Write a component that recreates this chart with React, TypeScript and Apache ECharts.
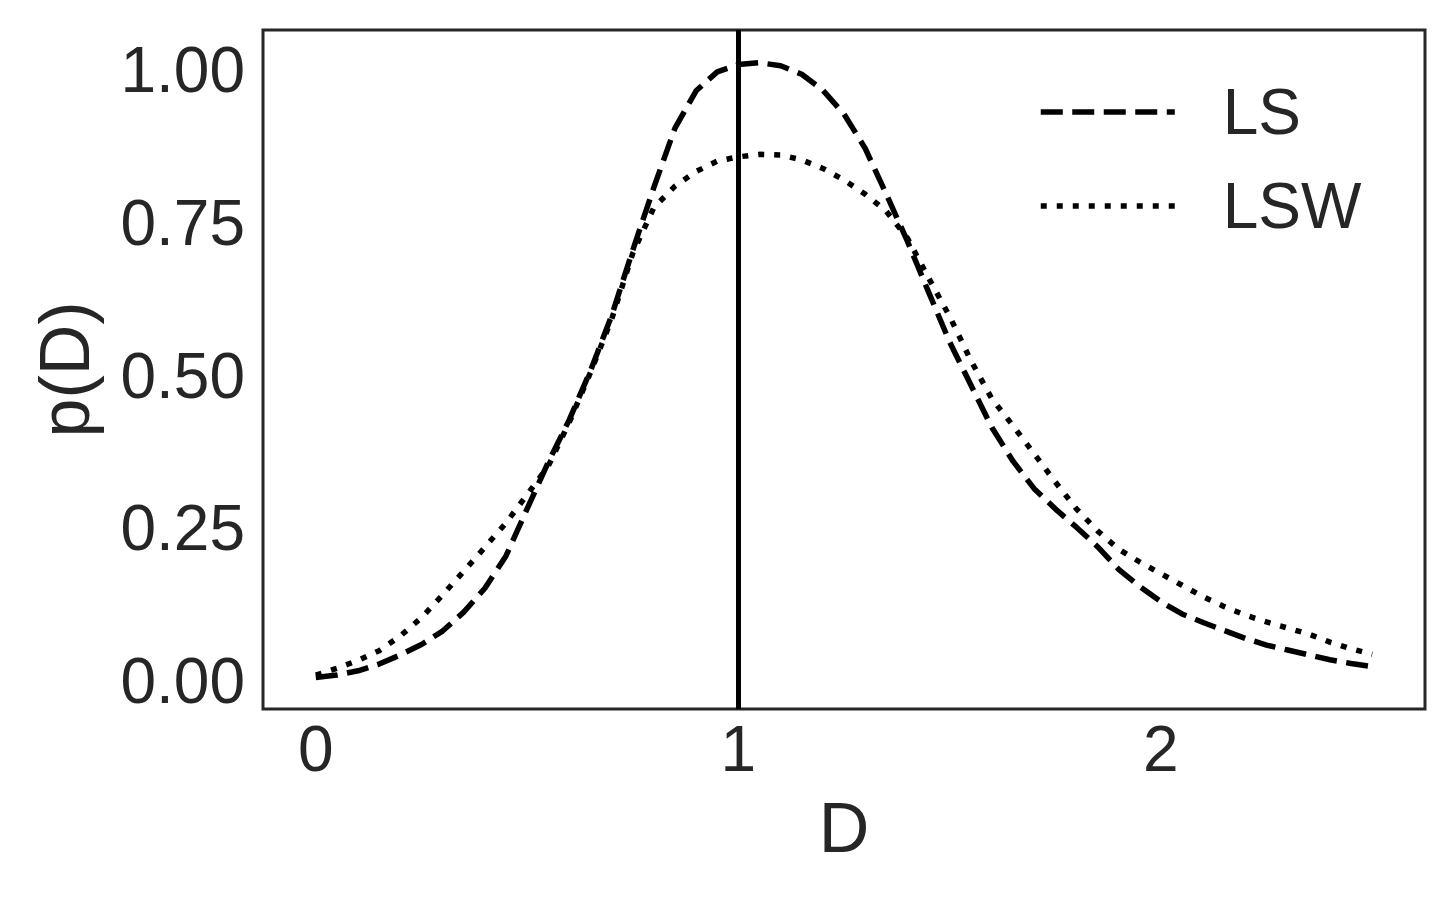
import React, { useEffect, useRef } from "react";
import * as echarts from "echarts";

// D values (x axis)
const dValues = [
  0.0, 0.05, 0.1, 0.15, 0.2, 0.25, 0.3, 0.35, 0.4, 0.45,
  0.5, 0.55, 0.6, 0.65, 0.7, 0.75, 0.8, 0.85, 0.9, 0.95,
  1.0, 1.05, 1.1, 1.15, 1.2, 1.25, 1.3, 1.35, 1.4, 1.45,
  1.5, 1.55, 1.6, 1.65, 1.7, 1.75, 1.8, 1.85, 1.9, 1.95,
  2.0, 2.05, 2.1, 2.15, 2.2, 2.25, 2.3, 2.35, 2.4, 2.45, 2.5,
];

// p(D) for LS (dashed)
const lsValues = [
  0.006, 0.010, 0.017, 0.028, 0.043, 0.060, 0.082, 0.113, 0.152, 0.205,
  0.282, 0.358, 0.428, 0.508, 0.598, 0.705, 0.808, 0.905, 0.966, 0.997,
  1.009, 1.012, 1.007, 0.993, 0.967, 0.928, 0.872, 0.797, 0.720, 0.637,
  0.555, 0.485, 0.415, 0.360, 0.315, 0.282, 0.252, 0.220, 0.183, 0.155,
  0.130, 0.110, 0.096, 0.083, 0.070, 0.059, 0.051, 0.043, 0.035, 0.029, 0.024,
];

// p(D) for LSW (dotted)
const lswValues = [
  0.010, 0.021, 0.034, 0.050, 0.074, 0.104, 0.141, 0.180, 0.219, 0.259,
  0.305, 0.352, 0.424, 0.505, 0.592, 0.700, 0.775, 0.810, 0.834, 0.851,
  0.858, 0.862, 0.861, 0.853, 0.839, 0.820, 0.797, 0.769, 0.725, 0.660,
  0.597, 0.525, 0.462, 0.418, 0.372, 0.326, 0.282, 0.246, 0.216, 0.195,
  0.176, 0.157, 0.138, 0.122, 0.108, 0.097, 0.087, 0.077, 0.064, 0.053, 0.044,
];

const xTicks = [0, 1, 2];
const yTicks = [0, 0.25, 0.5, 0.75, 1.0];
const referenceD = 1;

const FONT = "'Liberation Sans', Arial, sans-serif";
const TEXT = "#262626";

export default function App() {
  const ref = useRef<HTMLDivElement>(null);

  useEffect(() => {
    if (!ref.current) return;
    const chart = echarts.init(ref.current, null, { renderer: "svg" });
    const option = {
      animation: false,
      backgroundColor: "#ffffff",
      textStyle: { fontFamily: FONT, color: TEXT },
      grid: {
        left: 263,
        top: 30,
        width: 1162,
        height: 679,
        show: true,
        borderColor: TEXT,
        borderWidth: 3,
        backgroundColor: "transparent",
        containLabel: false,
      },
      legend: {
        orient: "vertical",
        left: 1033,
        top: 72,
        itemWidth: 134,
        itemHeight: 2,
        itemGap: 24,
        lineStyle: { width: 5.5 },
        itemStyle: { opacity: 0 },
        textStyle: {
          fontFamily: FONT,
          fontSize: 64,
          color: TEXT,
          lineHeight: 70,
          padding: [0, 0, 0, 43],
        },
        data: ["LS", "LSW"],
      },
      xAxis: {
        type: "value",
        min: -0.125,
        max: 2.625,
        name: "D",
        nameLocation: "middle",
        nameGap: 84,
        nameTextStyle: { fontFamily: FONT, fontSize: 70, color: TEXT },
        axisLine: { show: false },
        axisTick: { show: false },
        splitLine: { show: false },
        axisLabel: {
          customValues: xTicks,
          fontFamily: FONT,
          fontSize: 64,
          color: TEXT,
          margin: 8,
          formatter: (v: number) => String(v),
        },
      },
      yAxis: {
        type: "value",
        min: -0.0455,
        max: 1.0655,
        name: "p(D)",
        nameLocation: "middle",
        nameRotate: 90,
        nameGap: 163,
        nameTextStyle: { fontFamily: FONT, fontSize: 70, color: TEXT },
        axisLine: { show: false },
        axisTick: { show: false },
        splitLine: { show: false },
        axisLabel: {
          customValues: yTicks,
          fontFamily: FONT,
          fontSize: 64,
          color: TEXT,
          margin: 18,
          formatter: (v: number) => v.toFixed(2),
        },
      },
      series: [
        {
          name: "LS",
          type: "line",
          data: dValues.map((d, i) => [d, lsValues[i]]),
          symbol: "none",
          showSymbol: false,
          lineStyle: { color: "#000000", width: 5.5, type: [22, 9.5], cap: "butt", join: "round" },
          itemStyle: { color: "#000000" },
          markLine: {
            silent: true,
            symbol: "none",
            label: { show: false },
            lineStyle: { color: "#000000", width: 5, type: "solid" },
            data: [{ xAxis: referenceD }],
          },
          z: 3,
        },
        {
          name: "LSW",
          type: "line",
          data: dValues.map((d, i) => [d, lswValues[i]]),
          symbol: "none",
          showSymbol: false,
          lineStyle: { color: "#000000", width: 5.5, type: [6, 10], cap: "butt", join: "round" },
          itemStyle: { color: "#000000" },
          z: 3,
        },
      ],
    };
    chart.setOption(option as any);
    return () => chart.dispose();
  }, []);

  return (
    <div
      ref={ref}
      style={{ position: "fixed", left: 0, top: 0, width: 1454, height: 899, background: "#fff" }}
    />
  );
}
